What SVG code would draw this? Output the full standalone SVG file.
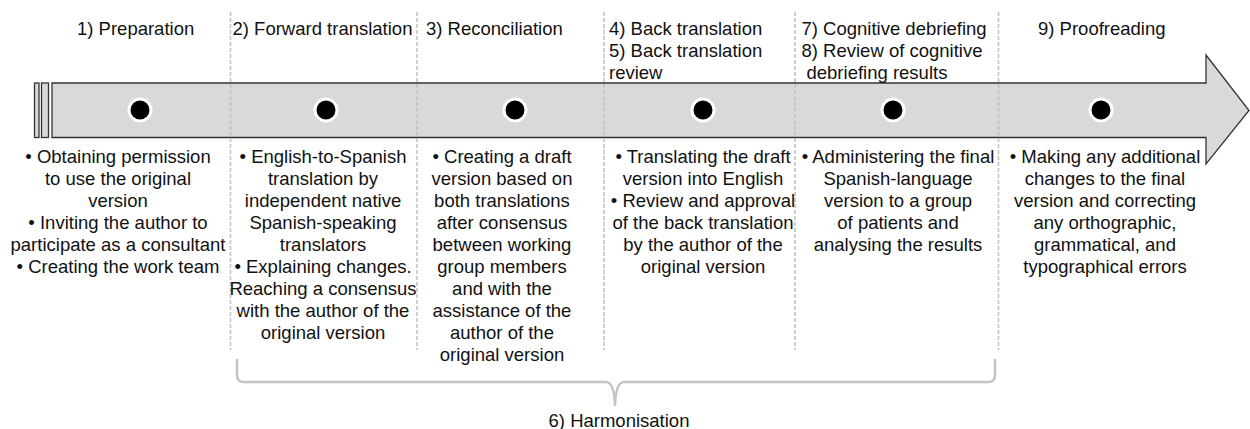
<svg xmlns="http://www.w3.org/2000/svg" width="1250" height="429" viewBox="0 0 1250 429">
<style>
text{font-family:"Liberation Sans",Arial,Helvetica,sans-serif;font-size:18.5px;fill:#111}
.c{text-anchor:middle}
.arr{fill:#d9d9d9;stroke:#333;stroke-width:1.3}
.div{stroke:#c4c4c4;stroke-width:1.6;stroke-dasharray:4 2;fill:none}
.dot{fill:#000;stroke:#fff;stroke-width:3}
.brace{fill:none;stroke:#c4c4c4;stroke-width:2.5;stroke-linejoin:round}
</style>
<g id="timeline">
<rect class="arr" x="34.5" y="83" width="4.5" height="54.5"/>
<rect class="arr" x="41.5" y="83" width="7" height="54.5"/>
<path class="arr" d="M52,83 H1206 V55 L1249,110.5 L1206,164 V137.5 H52 Z"/>
</g>
<g id="dividers">
<line class="div" x1="230.5" y1="12" x2="230.5" y2="350"/>
<line class="div" x1="417" y1="12" x2="417" y2="350"/>
<line class="div" x1="604" y1="12" x2="604" y2="350"/>
<line class="div" x1="795" y1="12" x2="795" y2="350"/>
<line class="div" x1="998.5" y1="12" x2="998.5" y2="350"/>
</g>
<g id="stage1">
<text x="77" y="35">1) Preparation</text>
<circle class="dot" cx="140" cy="110" r="11"/>
<text class="c" y="163"><tspan x="118">• Obtaining permission</tspan><tspan x="118" dy="22">to use the original</tspan><tspan x="118" dy="22">version</tspan><tspan x="118" dy="22">• Inviting the author to</tspan><tspan x="118" dy="22">participate as a consultant</tspan><tspan x="118" dy="22">• Creating the work team</tspan></text>
</g>
<g id="stage2">
<text x="232.5" y="35">2) Forward translation</text>
<circle class="dot" cx="326" cy="110" r="11"/>
<text class="c" y="163"><tspan x="323">• English-to-Spanish</tspan><tspan x="323" dy="22">translation by</tspan><tspan x="323" dy="22">independent native</tspan><tspan x="323" dy="22">Spanish-speaking</tspan><tspan x="323" dy="22">translators</tspan><tspan x="323" dy="22">• Explaining changes.</tspan><tspan x="323" dy="22">Reaching a consensus</tspan><tspan x="323" dy="22">with the author of the</tspan><tspan x="323" dy="22">original version</tspan></text>
</g>
<g id="stage3">
<text x="426" y="35">3) Reconciliation</text>
<circle class="dot" cx="515" cy="110" r="11"/>
<text class="c" y="163"><tspan x="502">• Creating a draft</tspan><tspan x="502" dy="22">version based on</tspan><tspan x="502" dy="22">both translations</tspan><tspan x="502" dy="22">after consensus</tspan><tspan x="502" dy="22">between working</tspan><tspan x="502" dy="22">group members</tspan><tspan x="502" dy="22">and with the</tspan><tspan x="502" dy="22">assistance of the</tspan><tspan x="502" dy="22">author of the</tspan><tspan x="502" dy="22">original version</tspan></text>
</g>
<g id="stage4">
<text x="609" y="35">4) Back translation</text>
<text x="609" y="57">5) Back translation</text>
<text x="609" y="79">review</text>
<circle class="dot" cx="703" cy="110" r="11"/>
<text class="c" y="163"><tspan x="703">• Translating the draft</tspan><tspan x="703" dy="22">version into English</tspan><tspan x="703" dy="22">• Review and approval</tspan><tspan x="703" dy="22">of the back translation</tspan><tspan x="703" dy="22">by the author of the</tspan><tspan x="703" dy="22">original version</tspan></text>
</g>
<g id="stage5">
<text x="801.5" y="35">7) Cognitive debriefing</text>
<text x="801.5" y="57">8) Review of cognitive</text>
<text x="806.5" y="79">debriefing results</text>
<circle class="dot" cx="893" cy="110" r="11"/>
<text class="c" y="163"><tspan x="898">• Administering the final</tspan><tspan x="898" dy="22">Spanish-language</tspan><tspan x="898" dy="22">version to a group</tspan><tspan x="898" dy="22">of patients and</tspan><tspan x="898" dy="22">analysing the results</tspan></text>
</g>
<g id="stage6">
<text x="1038" y="35">9) Proofreading</text>
<circle class="dot" cx="1101" cy="110" r="11"/>
<text class="c" y="163"><tspan x="1105">• Making any additional</tspan><tspan x="1105" dy="22">changes to the final</tspan><tspan x="1105" dy="22">version and correcting</tspan><tspan x="1105" dy="22">any orthographic,</tspan><tspan x="1105" dy="22">grammatical, and</tspan><tspan x="1105" dy="22">typographical errors</tspan></text>
</g>
<g id="connectors">
<path class="brace" d="M237,359 V375 Q237,382 244,382 H606 Q614,382 615,405 Q616,382 624,382 H988 Q995,382 995,375 V359"/>
</g>
<g id="harmonisation">
<text class="c" x="619" y="427">6) Harmonisation</text>
</g>
</svg>
